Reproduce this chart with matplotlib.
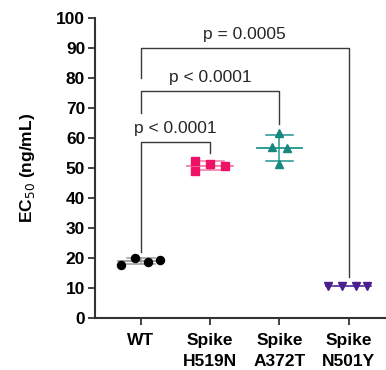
import numpy as np
import matplotlib.pyplot as plt

plt.rcParams['font.family'] = ['Liberation Sans', 'DejaVu Sans']

groups = ['WT', 'Spike\nH519N', 'Spike\nA372T', 'Spike\nN501Y']
wt = [17.7, 19.9, 18.8, 19.3]
h519n = [52.4, 49.0, 51.2, 50.8]
a372t = [61.8, 56.9, 56.6, 51.3]
n501y = [10.6, 10.6, 10.6, 10.6]
values = [wt, h519n, a372t, n501y]

# comparisons: (group a, group b, p text, bracket height, left leg end, right leg end)
comp_pairs = [(0, 1), (0, 2), (0, 3)]
comp_text = ['p < 0.0001', 'p < 0.0001', 'p = 0.0005']
comp_top = [58.8, 75.8, 89.9]
comp_left_end = [22.1, 68.3, 79.9]
comp_right_end = [55.0, 64.7, 13.8]

# layout of the dots in each column (scatter spread)
x_offsets = [[-0.29, -0.09, 0.095, 0.27],
             [-0.22, -0.22, 0.0, 0.22],
             [0.0, -0.11, 0.11, 0.0],
             [-0.3, -0.1, 0.1, 0.27]]
colors = ['black', '#EE1266', '#17877F', '#4A1E8C']
bar_colors = ['#9a9a9a', '#F47AA3', '#1F968E', '#6A4AA8']
markers = ['o', 's', '^', 'v']

fig = plt.figure(figsize=(3.86, 3.70), dpi=100)
ax = fig.add_axes([0.246, 0.1405, 0.754, 0.8105])

for i, v in enumerate(values):
    v = np.array(v)
    m = v.mean()
    sd = v.std(ddof=1)
    ax.plot([i - 0.33, i + 0.33], [m, m], color=bar_colors[i], lw=1.3, zorder=2)
    ax.plot([i, i], [m - sd, m + sd], color=bar_colors[i], lw=1.1, zorder=2)
    for e in (m - sd, m + sd):
        ax.plot([i - 0.2, i + 0.2], [e, e], color=bar_colors[i], lw=1.1, zorder=2)
    xs = i + np.array(x_offsets[i])
    ax.plot(xs, v, ls='none', marker=markers[i], color=colors[i],
            ms=5.8, zorder=3, clip_on=False)

for k, (a, b) in enumerate(comp_pairs):
    top = comp_top[k]
    ax.plot([a, a, b, b], [comp_left_end[k], top, top, comp_right_end[k]],
            color='#3a3a3a', lw=1.0, zorder=1)
    ax.text((a + b) / 2, top + 2.0, comp_text[k], ha='center', va='bottom',
            fontsize=12.5, color='#262626')

ax.set_xlim(-0.664, 3.54)
ax.set_ylim(0, 100)
ax.set_yticks(np.arange(0, 101, 10))
ax.set_xticks(range(len(groups)))
ax.set_xticklabels(groups, fontweight='bold', fontsize=12.5, linespacing=1.45)
for lab in ax.get_yticklabels():
    lab.set_fontweight('bold')
    lab.set_fontsize(12.5)
ax.set_ylabel('EC$_{50}$ (ng/mL)', fontweight='bold', fontsize=12.5, labelpad=14)

for s in ['top', 'right']:
    ax.spines[s].set_visible(False)
for s in ['left', 'bottom']:
    ax.spines[s].set_linewidth(1.5)
    ax.spines[s].set_color('#333333')
ax.tick_params(axis='both', length=5, width=1.3, color='#333333')
ax.tick_params(axis='x', pad=6)
ax.tick_params(axis='y', pad=2)

fig.savefig('out.png', dpi=100)
